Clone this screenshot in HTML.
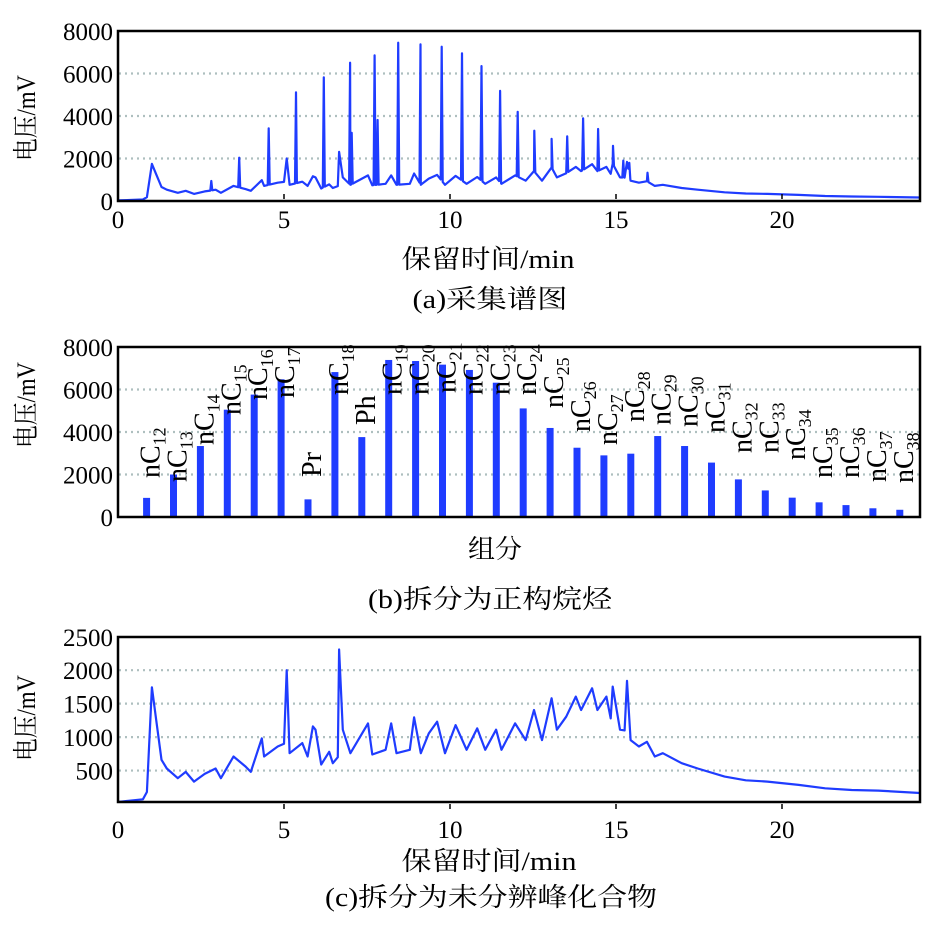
<!DOCTYPE html>
<html><head><meta charset="utf-8"><style>
html,body{margin:0;padding:0;background:#fff;}
svg{display:block;font-family:"Liberation Serif","Noto Serif CJK SC","Noto Sans CJK SC",serif;}
</style></head><body>
<svg id="chart" width="945" height="945" viewBox="0 0 945 945" xmlns="http://www.w3.org/2000/svg">
<defs>
<clipPath id="clipA"><rect x="118" y="31" width="802" height="170"/></clipPath>
<clipPath id="clipC"><rect x="118" y="637" width="802" height="165"/></clipPath>
</defs>
<g id="root"></g>
</svg>
<script>
// Panel (c) unresolved complex mixture trace: time (min) and voltage (mV)
const tC=[0,0.75,0.87,1.02,1.15,1.31,1.47,1.8,2.04,2.29,2.61,2.94,3.1,3.48,3.84,4.0,4.33,4.4,4.81,5.0,5.08,5.17,5.55,5.71,5.87,5.95,6.12,6.36,6.47,6.62,6.66,6.77,7.0,7.42,7.53,7.66,8.06,8.23,8.39,8.79,8.92,9.12,9.36,9.61,9.85,10.17,10.5,10.82,11.06,11.39,11.55,11.96,12.28,12.53,12.77,13.06,13.22,13.5,13.79,13.95,14.28,14.44,14.71,14.84,14.9,15.12,15.26,15.33,15.44,15.69,15.93,16.17,16.41,16.98,17.46,18.27,18.91,19.56,20.5,21.3,22.1,22.9,24.3];
const vC=[30,70,180,1745,1255,660,530,385,480,335,450,530,385,710,560,480,980,710,860,900,2000,760,910,710,1160,1110,590,780,610,700,2310,1110,760,1110,1205,740,810,1205,760,810,1295,760,1055,1230,760,1180,810,1130,810,1110,810,1205,955,1405,955,1580,1110,1305,1605,1405,1730,1405,1605,1280,1755,1110,1100,1840,955,860,930,710,760,610,530,410,355,335,285,235,210,200,160];
// Panel (a) n-alkane peaks: retention time and apex voltage
const peakT=[2.81,3.65,4.54,5.36,6.2,6.99,7.04,7.73,7.82,8.44,9.11,9.75,10.36,10.95,11.51,12.04,12.54,13.06,13.53,14.01,14.46,14.91,15.22,15.4,15.95];
const peakV=[940,2040,3420,5110,5820,6510,3210,6850,3810,7450,7370,7260,6950,6350,5180,4200,3310,2920,3040,3890,3390,2600,1900,1800,1330];
// Panel (b) components
const compBase=["nC","nC","nC","nC","nC","nC","Pr","nC","Ph","nC","nC","nC","nC","nC","nC","nC","nC","nC","nC","nC","nC","nC","nC","nC","nC","nC","nC","nC","nC"];
const compSub=["12","13","14","15","16","17","","18","","19","20","21","22","23","24","25","26","27","28","29","30","31","32","33","34","35","36","37","38"];
const compV=[900,2000,3340,5050,5760,6480,830,6820,3760,7390,7340,7170,6920,6320,5110,4190,3260,2900,2980,3810,3340,2560,1770,1250,910,690,560,410,340];
// layout: label bottom y for each component label
const labelBottom=[478,482,445,415,400,398,477,395,425,395,395,393,395,395,395,408,432,445,422,425,427,433,453,453,460,478,478,482,483];
const xTicks=[0,5,10,15,20];
const yTicksAB=[0,2000,4000,6000,8000];
const yTicksC=[500,1000,1500,2000,2500];

const NS="http://www.w3.org/2000/svg";
const root=document.getElementById('root');
function mk(tag,attrs,parent){const e=document.createElementNS(NS,tag);for(const k in attrs)e.setAttribute(k,attrs[k]);(parent||root).appendChild(e);return e;}
const xT=t=>118+t*33.2;
const yA=v=>201-v*0.02125;
const yB=v=>517-v*0.02125;
const yC=v=>804-v*0.0669;
const BLUE="#1f3cff";

function grid(yfn,vals,y0,y1){
  vals.forEach(v=>{const y=yfn(v);if(y<=y0+2||y>=y1-2)return;
    const g=mk('line',{x1:119,x2:919,y1:y,y2:y,stroke:"#aebfbf","stroke-width":2.2,"stroke-dasharray":"2 4"});
    
    });
}
function yLabels(yfn,vals){
  vals.forEach(v=>{const t=mk('text',{x:113,y:yfn(v)+9,"text-anchor":"end","font-size":25});t.textContent=v;
    
    });
}
function xLabels(y){
  xTicks.forEach(v=>{const t=mk('text',{x:xT(v),y:y,"text-anchor":"middle","font-size":25});t.textContent=v;
    
    
    if(v>0){const l=mk('line',{x1:xT(v),x2:xT(v),y1:y-29,y2:y-34,stroke:"#000","stroke-width":1.5});
    
    }});
}
function txt(s,x,y,w,name,rot){
  const a={x:x,y:y,"text-anchor":"middle","font-size":26,textLength:w,lengthAdjust:"spacingAndGlyphs"};
  if(rot)a.transform="rotate(-90 "+x+" "+y+")";
  const t=mk('text',a);t.textContent=s;
  
  
}
function interp(t){for(let i=1;i<tC.length;i++){if(tC[i]>=t){const f=(t-tC[i-1])/(tC[i]-tC[i-1]);return vC[i-1]+f*(vC[i]-vC[i-1]);}}return vC[vC.length-1];}

// ---------- Panel A ----------
grid(yA,yTicksAB,31,201);
let pts=tC.map((t,i)=>[t,vC[i]]);
peakT.forEach((t,i)=>{pts.push([t-0.03,interp(t-0.03)]);pts.push([t,peakV[i]]);pts.push([t+0.03,interp(t+0.03)]);});
pts.sort((a,b)=>a[0]-b[0]);
const pa=mk('polyline',{points:pts.map(p=>xT(p[0]).toFixed(1)+","+yA(p[1]).toFixed(1)).join(" "),fill:"none",stroke:BLUE,"stroke-width":2.2,"clip-path":"url(#clipA)","stroke-linejoin":"round"});


const ba=mk('rect',{x:118,y:31,width:802,height:170,fill:"none",stroke:"#000","stroke-width":2.5});


yLabels(yA,yTicksAB);
xLabels(228);
txt("电压/mV",35,118,86,"y-axis-title-a",true);
txt("保留时间/min",488,268,173,"x-axis-title-a");
txt("(a)采集谱图",490,308,155,"caption-a");

// ---------- Panel B ----------
grid(yB,yTicksAB,347,517);
compV.forEach((v,i)=>{const x=146.6+i*26.9;
  const r=mk('rect',{x:x-3.5,y:yB(v),width:7,height:517-yB(v),fill:BLUE});
  
  
  const lx=x+13,ly=labelBottom[i];
  const t=mk('text',{x:lx,y:ly,"font-size":28,transform:"rotate(-90 "+lx+" "+ly+")"});
  const s1=mk('tspan',{},t);s1.textContent=compBase[i];
  if(compSub[i]){const s2=mk('tspan',{"font-size":18,dy:6},t);s2.textContent=compSub[i];}
  
  
});
const bb=mk('rect',{x:118,y:347,width:802,height:170,fill:"none",stroke:"#000","stroke-width":2.5});


yLabels(yB,yTicksAB);
txt("电压/mV",35,405,86,"y-axis-title-b",true);
txt("组分",495,558,54,"x-axis-title-b");
txt("(b)拆分为正构烷烃",490,608,244,"caption-b");

// ---------- Panel C ----------
grid(yC,yTicksC,637,802);
const pc=mk('polyline',{points:tC.map((t,i)=>xT(t).toFixed(1)+","+yC(vC[i]).toFixed(1)).join(" "),fill:"none",stroke:BLUE,"stroke-width":2.2,"clip-path":"url(#clipC)","stroke-linejoin":"round"});


const bc=mk('rect',{x:118,y:637,width:802,height:165,fill:"none",stroke:"#000","stroke-width":2.5});


yLabels(yC,yTicksC);
xLabels(838);
txt("电压/mV",35,718,86,"y-axis-title-c",true);
txt("保留时间/min",489,870,175,"x-axis-title-c");
txt("(c)拆分为未分辨峰化合物",491,906,332,"caption-c");
</script>
</body></html>
